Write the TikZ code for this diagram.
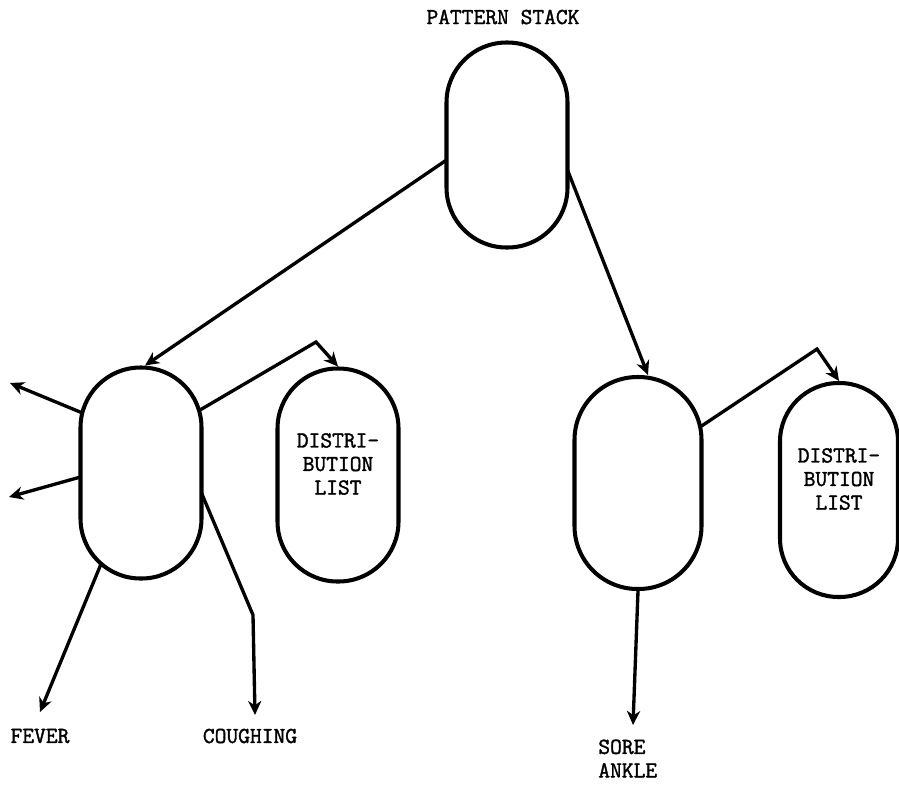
\documentclass[tikz,border=0pt]{standalone}
\usepackage{fontspec}
\newfontfamily\typewriter[FakeBold=1.6]{Latin Modern Mono}
\usetikzlibrary{arrows.meta}

\tikzset{
  capsule/.style={draw, line width=2.3pt, minimum width=2.42cm, minimum height=4.22cm, rounded corners=1.2cm, inner sep=0pt},
  link/.style={line width=1.9pt, -{Stealth[length=8pt,width=7.5pt,inset=2.5pt]}},
  tag/.style={font=\typewriter\fontsize{13}{13.4}\selectfont, inner sep=0pt, align=center},
}

\begin{document}
\begin{tikzpicture}

        \useasboundingbox (0,0) rectangle (17.98,-15.72);

        %Capsules
        %Top (pattern stack)
        \node[capsule, minimum height=4.10cm] (top) at (10.14,-2.90) {};

        %Layer 1
        %left
        \node[capsule] (lcap) at (2.82,-9.46) {};
        \node[capsule, minimum height=4.26cm] (ldist) at (6.76,-9.50) {};
        %right
        \node[capsule, minimum width=2.54cm, minimum height=4.24cm, rounded corners=1.26cm] (rcap) at (12.76,-9.66) {};
        \node[capsule, minimum width=2.36cm, minimum height=4.28cm, rounded corners=1.17cm] (rdist) at (16.78,-9.80) {};

        %Free ends and bends
        \coordinate (lapex) at (6.32,-6.84);
        \coordinate (rapex) at (16.34,-6.98);
        \coordinate (ltipa) at (0.20,-7.66);
        \coordinate (ltipb) at (0.18,-9.94);
        \coordinate (fevertip) at (0.80,-14.24);
        \coordinate (coughbend) at (5.06,-12.30);
        \coordinate (coughtip) at (5.10,-14.30);
        \coordinate (soretip) at (12.66,-14.50);

        %Edges
        %from the stack
        \draw[link] ([shift={(-1.21,-0.30)}]top.center) -- ([shift={(0.08,2.15)}]lcap.center);
        \draw[link] ([shift={(1.21,-0.50)}]top.center) -- ([shift={(0.20,2.16)}]rcap.center);

        %to the distribution lists
        \draw[link] ([shift={(1.18,1.26)}]lcap.center) -- (lapex) -- (ldist.north);
        \draw[link] ([shift={(1.24,1.12)}]rcap.center) -- (rapex) -- (rdist.north);

        %left capsule
        \draw[link] ([shift={(-1.17,1.20)}]lcap.center) -- (ltipa);
        \draw[link] ([shift={(-1.21,-0.08)}]lcap.center) -- (ltipb);
        \draw[link] ([shift={(-0.80,-1.82)}]lcap.center) -- (fevertip);
        \draw[link] ([shift={(1.21,-0.40)}]lcap.center) -- (coughbend) -- (coughtip);

        %right capsule
        \draw[link] (rcap.south) -- (soretip);

        %Labels
        \node[tag] (title) at (10.06,-0.34) {PATTERN STACK};
        \node[tag] (ldisttext) at ([yshift=0.22cm]ldist.center) {DISTRI-\\BUTION\\LIST};
        \node[tag] (rdisttext) at ([yshift=0.22cm]rdist.center) {DISTRI-\\BUTION\\LIST};
        \node[tag] (fever) at (0.80,-14.72) {FEVER};
        \node[tag] (cough) at (5.00,-14.72) {COUGHING};
        \node[tag, anchor=west, align=left] (sore) at (11.96,-15.17) {SORE\\ANKLE};

\end{tikzpicture}
\end{document}
